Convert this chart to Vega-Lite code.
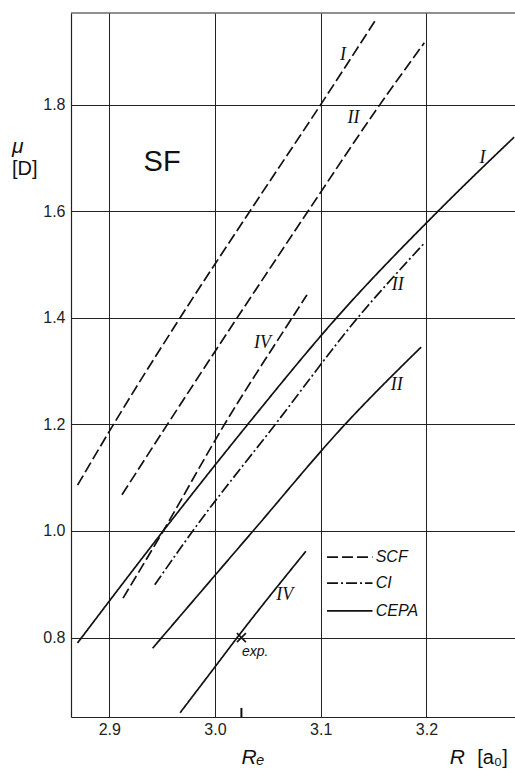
{
  "$schema": "https://vega.github.io/schema/vega-lite/v6.json",
  "width": 444,
  "height": 704,
  "autosize": "none",
  "padding": {"left": 71, "top": 13, "right": 0, "bottom": 52},
  "background": "white",
  "config": {
    "view": {"stroke": null},
    "font": "Liberation Sans",
    "axis": {
      "grid": true, "gridColor": "#222", "gridWidth": 1, "gridOpacity": 1,
      "domainColor": "#222", "domainWidth": 1.2, "ticks": false,
      "labelFont": "Liberation Sans", "labelFontSize": 16, "labelColor": "#222",
      "title": null
    }
  },
  "datasets": {
    "curves": [
      {"series": "SCF I", "method": "SCF", "o": 1, "x": 2.870, "y": 1.086},
      {"series": "SCF I", "method": "SCF", "o": 2, "x": 2.904, "y": 1.2},
      {"series": "SCF I", "method": "SCF", "o": 3, "x": 2.967, "y": 1.4},
      {"series": "SCF I", "method": "SCF", "o": 4, "x": 3.033, "y": 1.6},
      {"series": "SCF I", "method": "SCF", "o": 5, "x": 3.100, "y": 1.8},
      {"series": "SCF I", "method": "SCF", "o": 6, "x": 3.153, "y": 1.962},
      {"series": "SCF II", "method": "SCF", "o": 1, "x": 2.912, "y": 1.068},
      {"series": "SCF II", "method": "SCF", "o": 2, "x": 2.955, "y": 1.2},
      {"series": "SCF II", "method": "SCF", "o": 3, "x": 3.021, "y": 1.4},
      {"series": "SCF II", "method": "SCF", "o": 4, "x": 3.088, "y": 1.6},
      {"series": "SCF II", "method": "SCF", "o": 5, "x": 3.156, "y": 1.8},
      {"series": "SCF II", "method": "SCF", "o": 6, "x": 3.198, "y": 1.916},
      {"series": "SCF IV", "method": "SCF", "o": 1, "x": 2.913, "y": 0.874},
      {"series": "SCF IV", "method": "SCF", "o": 2, "x": 2.951, "y": 1.0},
      {"series": "SCF IV", "method": "SCF", "o": 3, "x": 3.009, "y": 1.2},
      {"series": "SCF IV", "method": "SCF", "o": 4, "x": 3.073, "y": 1.4},
      {"series": "SCF IV", "method": "SCF", "o": 5, "x": 3.087, "y": 1.443},
      {"series": "CI II", "method": "CI", "o": 1, "x": 2.943, "y": 0.899},
      {"series": "CI II", "method": "CI", "o": 2, "x": 2.979, "y": 1.0},
      {"series": "CI II", "method": "CI", "o": 3, "x": 3.057, "y": 1.2},
      {"series": "CI II", "method": "CI", "o": 4, "x": 3.135, "y": 1.4},
      {"series": "CI II", "method": "CI", "o": 5, "x": 3.198, "y": 1.540},
      {"series": "CEPA I", "method": "CEPA", "o": 1, "x": 2.870, "y": 0.790},
      {"series": "CEPA I", "method": "CEPA", "o": 2, "x": 2.951, "y": 1.0},
      {"series": "CEPA I", "method": "CEPA", "o": 3, "x": 3.031, "y": 1.2},
      {"series": "CEPA I", "method": "CEPA", "o": 4, "x": 3.115, "y": 1.4},
      {"series": "CEPA I", "method": "CEPA", "o": 5, "x": 3.211, "y": 1.6},
      {"series": "CEPA I", "method": "CEPA", "o": 6, "x": 3.283, "y": 1.739},
      {"series": "CEPA II", "method": "CEPA", "o": 1, "x": 2.941, "y": 0.780},
      {"series": "CEPA II", "method": "CEPA", "o": 2, "x": 3.036, "y": 1.0},
      {"series": "CEPA II", "method": "CEPA", "o": 3, "x": 3.123, "y": 1.2},
      {"series": "CEPA II", "method": "CEPA", "o": 4, "x": 3.195, "y": 1.345},
      {"series": "CEPA IV", "method": "CEPA", "o": 1, "x": 2.967, "y": 0.659},
      {"series": "CEPA IV", "method": "CEPA", "o": 2, "x": 3.000, "y": 0.745},
      {"series": "CEPA IV", "method": "CEPA", "o": 3, "x": 3.021, "y": 0.8},
      {"series": "CEPA IV", "method": "CEPA", "o": 4, "x": 3.086, "y": 0.962}
    ],
    "legend": [
      {"method": "SCF", "x": 3.106, "x2": 3.149, "y": 0.951, "xt": 3.152},
      {"method": "CI", "x": 3.106, "x2": 3.149, "y": 0.902, "xt": 3.152},
      {"method": "CEPA", "x": 3.106, "x2": 3.149, "y": 0.850, "xt": 3.152}
    ],
    "roman": [
      {"label": "I", "x": 3.121, "y": 1.893},
      {"label": "II", "x": 3.131, "y": 1.775},
      {"label": "I", "x": 3.253, "y": 1.700},
      {"label": "IV", "x": 3.045, "y": 1.353},
      {"label": "II", "x": 3.173, "y": 1.462},
      {"label": "II", "x": 3.172, "y": 1.274},
      {"label": "IV", "x": 3.066, "y": 0.880}
    ],
    "exp": [{"x": 3.025, "y": 0.80, "label": "exp.", "xl": 3.038, "yl": 0.773, "ytick0": 0.651, "ytick1": 0.668}],
    "titles": [
      {"label": "SF", "x": 2.950, "y": 1.692, "kind": "sf"},
      {"label": "Rₑ", "x": 3.025, "y": 0.574, "kind": "it"},
      {"label": "R", "x": 3.222, "y": 0.574, "kind": "it"},
      {"label": "[a₀]", "x": 3.248, "y": 0.574, "kind": "up"},
      {"label": "μ", "x": 2.808, "y": 1.720, "kind": "it"},
      {"label": "[D]", "x": 2.808, "y": 1.679, "kind": "up"}
    ],
    "frame": [{"y": 1.9719}]
  },
  "layer": [
    {
      "data": {"name": "curves"},
      "mark": {"type": "line", "color": "#111", "strokeWidth": 1.7, "clip": true, "interpolate": "monotone"},
      "encoding": {
        "x": {"field": "x", "type": "quantitative",
              "scale": {"domain": [2.8638, 3.2838], "nice": false, "zero": false},
              "axis": {"values": [2.9, 3.0, 3.1, 3.2], "format": ".1f", "labelPadding": 4}},
        "y": {"field": "y", "type": "quantitative",
              "scale": {"domain": [0.651, 1.9719], "nice": false, "zero": false},
              "axis": {"values": [0.8, 1.0, 1.2, 1.4, 1.6, 1.8], "format": ".1f", "labelPadding": 6}},
        "detail": {"field": "series"},
        "order": {"field": "o"},
        "strokeDash": {"field": "method", "type": "nominal",
                       "scale": {"domain": ["SCF", "CI", "CEPA"], "range": [[11, 4], [11, 3, 2, 3], [1, 0]]},
                       "legend": null}
      }
    },
    {
      "data": {"name": "frame"},
      "mark": {"type": "rule", "color": "#222", "strokeWidth": 1.2},
      "encoding": {"y": {"field": "y", "type": "quantitative"}}
    },
    {
      "data": {"name": "legend"},
      "mark": {"type": "rule", "color": "#111", "strokeWidth": 1.7},
      "encoding": {
        "x": {"field": "x", "type": "quantitative"},
        "x2": {"field": "x2"},
        "y": {"field": "y", "type": "quantitative"},
        "strokeDash": {"field": "method", "type": "nominal",
                       "scale": {"domain": ["SCF", "CI", "CEPA"], "range": [[14, 4], [12, 3, 2, 3], [1, 0]]},
                       "legend": null}
      }
    },
    {
      "data": {"name": "legend"},
      "mark": {"type": "text", "align": "left", "baseline": "middle", "font": "Liberation Sans", "fontStyle": "italic", "fontSize": 16, "color": "#111"},
      "encoding": {
        "x": {"field": "xt", "type": "quantitative"},
        "y": {"field": "y", "type": "quantitative"},
        "text": {"field": "method"}
      }
    },
    {
      "data": {"name": "roman"},
      "mark": {"type": "text", "align": "center", "baseline": "middle", "font": "Liberation Serif", "fontStyle": "italic", "fontSize": 18, "color": "#111"},
      "encoding": {
        "x": {"field": "x", "type": "quantitative"},
        "y": {"field": "y", "type": "quantitative"},
        "text": {"field": "label"}
      }
    },
    {
      "data": {"name": "exp"},
      "mark": {"type": "point", "shape": "M-1,-1L1,1M-1,1L1,-1", "filled": false, "color": "#111", "strokeWidth": 1.6, "size": 80, "opacity": 1},
      "encoding": {
        "x": {"field": "x", "type": "quantitative"},
        "y": {"field": "y", "type": "quantitative"}
      }
    },
    {
      "data": {"name": "exp"},
      "mark": {"type": "text", "align": "center", "baseline": "middle", "font": "Liberation Sans", "fontStyle": "italic", "fontSize": 14, "color": "#111"},
      "encoding": {
        "x": {"field": "xl", "type": "quantitative"},
        "y": {"field": "yl", "type": "quantitative"},
        "text": {"field": "label"}
      }
    },
    {
      "data": {"name": "exp"},
      "mark": {"type": "rule", "color": "#111", "strokeWidth": 2},
      "encoding": {
        "x": {"field": "x", "type": "quantitative"},
        "y": {"field": "ytick0", "type": "quantitative"},
        "y2": {"field": "ytick1"}
      }
    },
    {
      "data": {"name": "titles"},
      "transform": [{"filter": "datum.kind == 'sf'"}],
      "mark": {"type": "text", "align": "center", "baseline": "middle", "font": "Liberation Sans", "fontSize": 29, "color": "#111"},
      "encoding": {
        "x": {"field": "x", "type": "quantitative"},
        "y": {"field": "y", "type": "quantitative"},
        "text": {"field": "label"}
      }
    },
    {
      "data": {"name": "titles"},
      "transform": [{"filter": "datum.kind == 'it'"}],
      "mark": {"type": "text", "align": "left", "baseline": "middle", "font": "Liberation Sans", "fontStyle": "italic", "fontSize": 21, "color": "#111", "clip": false},
      "encoding": {
        "x": {"field": "x", "type": "quantitative"},
        "y": {"field": "y", "type": "quantitative"},
        "text": {"field": "label"}
      }
    },
    {
      "data": {"name": "titles"},
      "transform": [{"filter": "datum.kind == 'up'"}],
      "mark": {"type": "text", "align": "left", "baseline": "middle", "font": "Liberation Sans", "fontSize": 20, "color": "#111", "clip": false},
      "encoding": {
        "x": {"field": "x", "type": "quantitative"},
        "y": {"field": "y", "type": "quantitative"},
        "text": {"field": "label"}
      }
    }
  ]
}
